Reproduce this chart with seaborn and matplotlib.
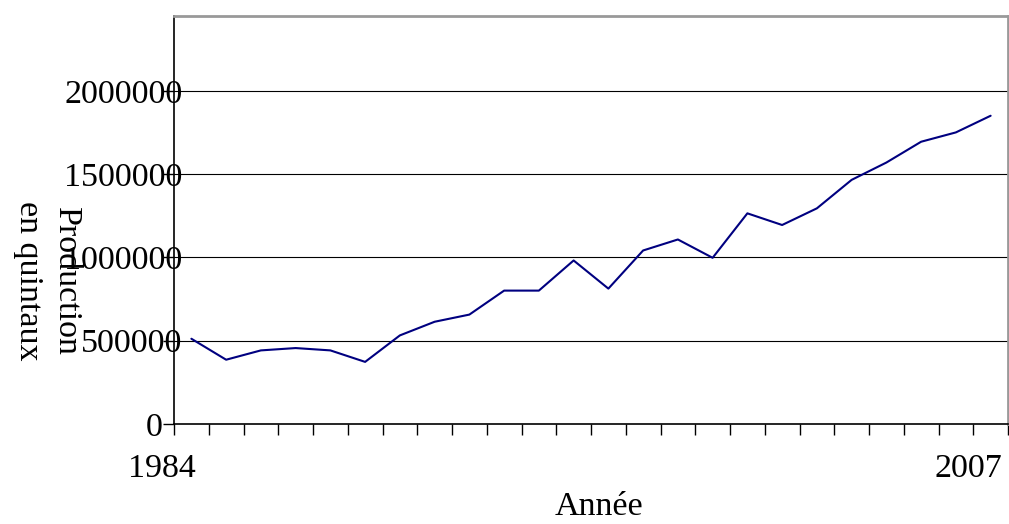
import matplotlib
matplotlib.use("Agg")
import matplotlib.pyplot as plt
import matplotlib.transforms as mtransforms
import seaborn as sns
import numpy as np

# data
years = list(range(1984, 2008))
production = [512000, 386000, 442000, 456000, 442000, 373000, 532000, 614000,
              657000, 801000, 801000, 982000, 813000, 1042000, 1108000, 998000,
              1265000, 1195000, 1295000, 1466000, 1570000, 1695000, 1751000, 1851000]
y_ticks = [0, 500000, 1000000, 1500000, 2000000]
x_labels = ["1984", "2007"]

sns.set_style("white")
plt.rcParams['font.family'] = ['Liberation Serif', 'DejaVu Serif']
plt.rcParams['text.color'] = 'black'
plt.rcParams['axes.labelcolor'] = 'black'
plt.rcParams['xtick.color'] = 'black'
plt.rcParams['ytick.color'] = 'black'
fs = 24.5

fig = plt.figure(figsize=(10.09, 5.24), dpi=100)
ax = fig.add_axes([174/1009, 1-424/524, (1008-174)/1009, (424-16)/524])

pos = np.arange(len(years))
sns.lineplot(x=pos, y=production, color="#000080", linewidth=1.5, ax=ax)

# y axis
ax.set_yticks(y_ticks)
ax.set_yticklabels([str(v) for v in y_ticks])
ax.tick_params(axis='y', which='major', direction='out', length=8, width=1,
               pad=-14, labelsize=fs, left=True)
for v in y_ticks[1:]:
    ax.axhline(v, color='black', linewidth=0.8, zorder=0)
# the "0" label sits clear of the axis in the reference
zero_lab = ax.get_yticklabels()[0]
zero_lab.set_transform(zero_lab.get_transform() +
                       mtransforms.ScaledTranslation(-0.2, 0, fig.dpi_scale_trans))

# x axis: ticks between categories, labels only first/last
ax.set_xticks(np.arange(len(years) + 1) - 0.5)
ax.set_xticklabels([])
ax.tick_params(axis='x', which='major', direction='out', length=8, width=1,
               bottom=True)
ax.set_xlim(-0.5, len(years) - 0.5)
ax.set_ylim(0, 2450000)

trans = mtransforms.blended_transform_factory(ax.transData, fig.transFigure)
ax.text(-0.85, 1-469/524, x_labels[0], transform=trans, ha='center',
        va='center', fontsize=fs)
ax.text(22.35, 1-469/524, x_labels[1], transform=trans, ha='center',
        va='center', fontsize=fs)

ax.set_xlabel("")
ax.set_ylabel("")
fig.text(599/1009, 1-507/524, "Année", ha='center', va='center', fontsize=fs)
fig.text(47/1009, 1-281/524, "Production\nen quintaux", rotation=-90,
         ha='center', va='center', fontsize=fs, linespacing=1.3)

for side in ['left', 'bottom']:
    ax.spines[side].set_color('black')
    ax.spines[side].set_linewidth(1.2)
for side in ['top', 'right']:
    ax.spines[side].set_color('#999999')
    ax.spines[side].set_linewidth(2)

fig.savefig("out.png", dpi=100)
